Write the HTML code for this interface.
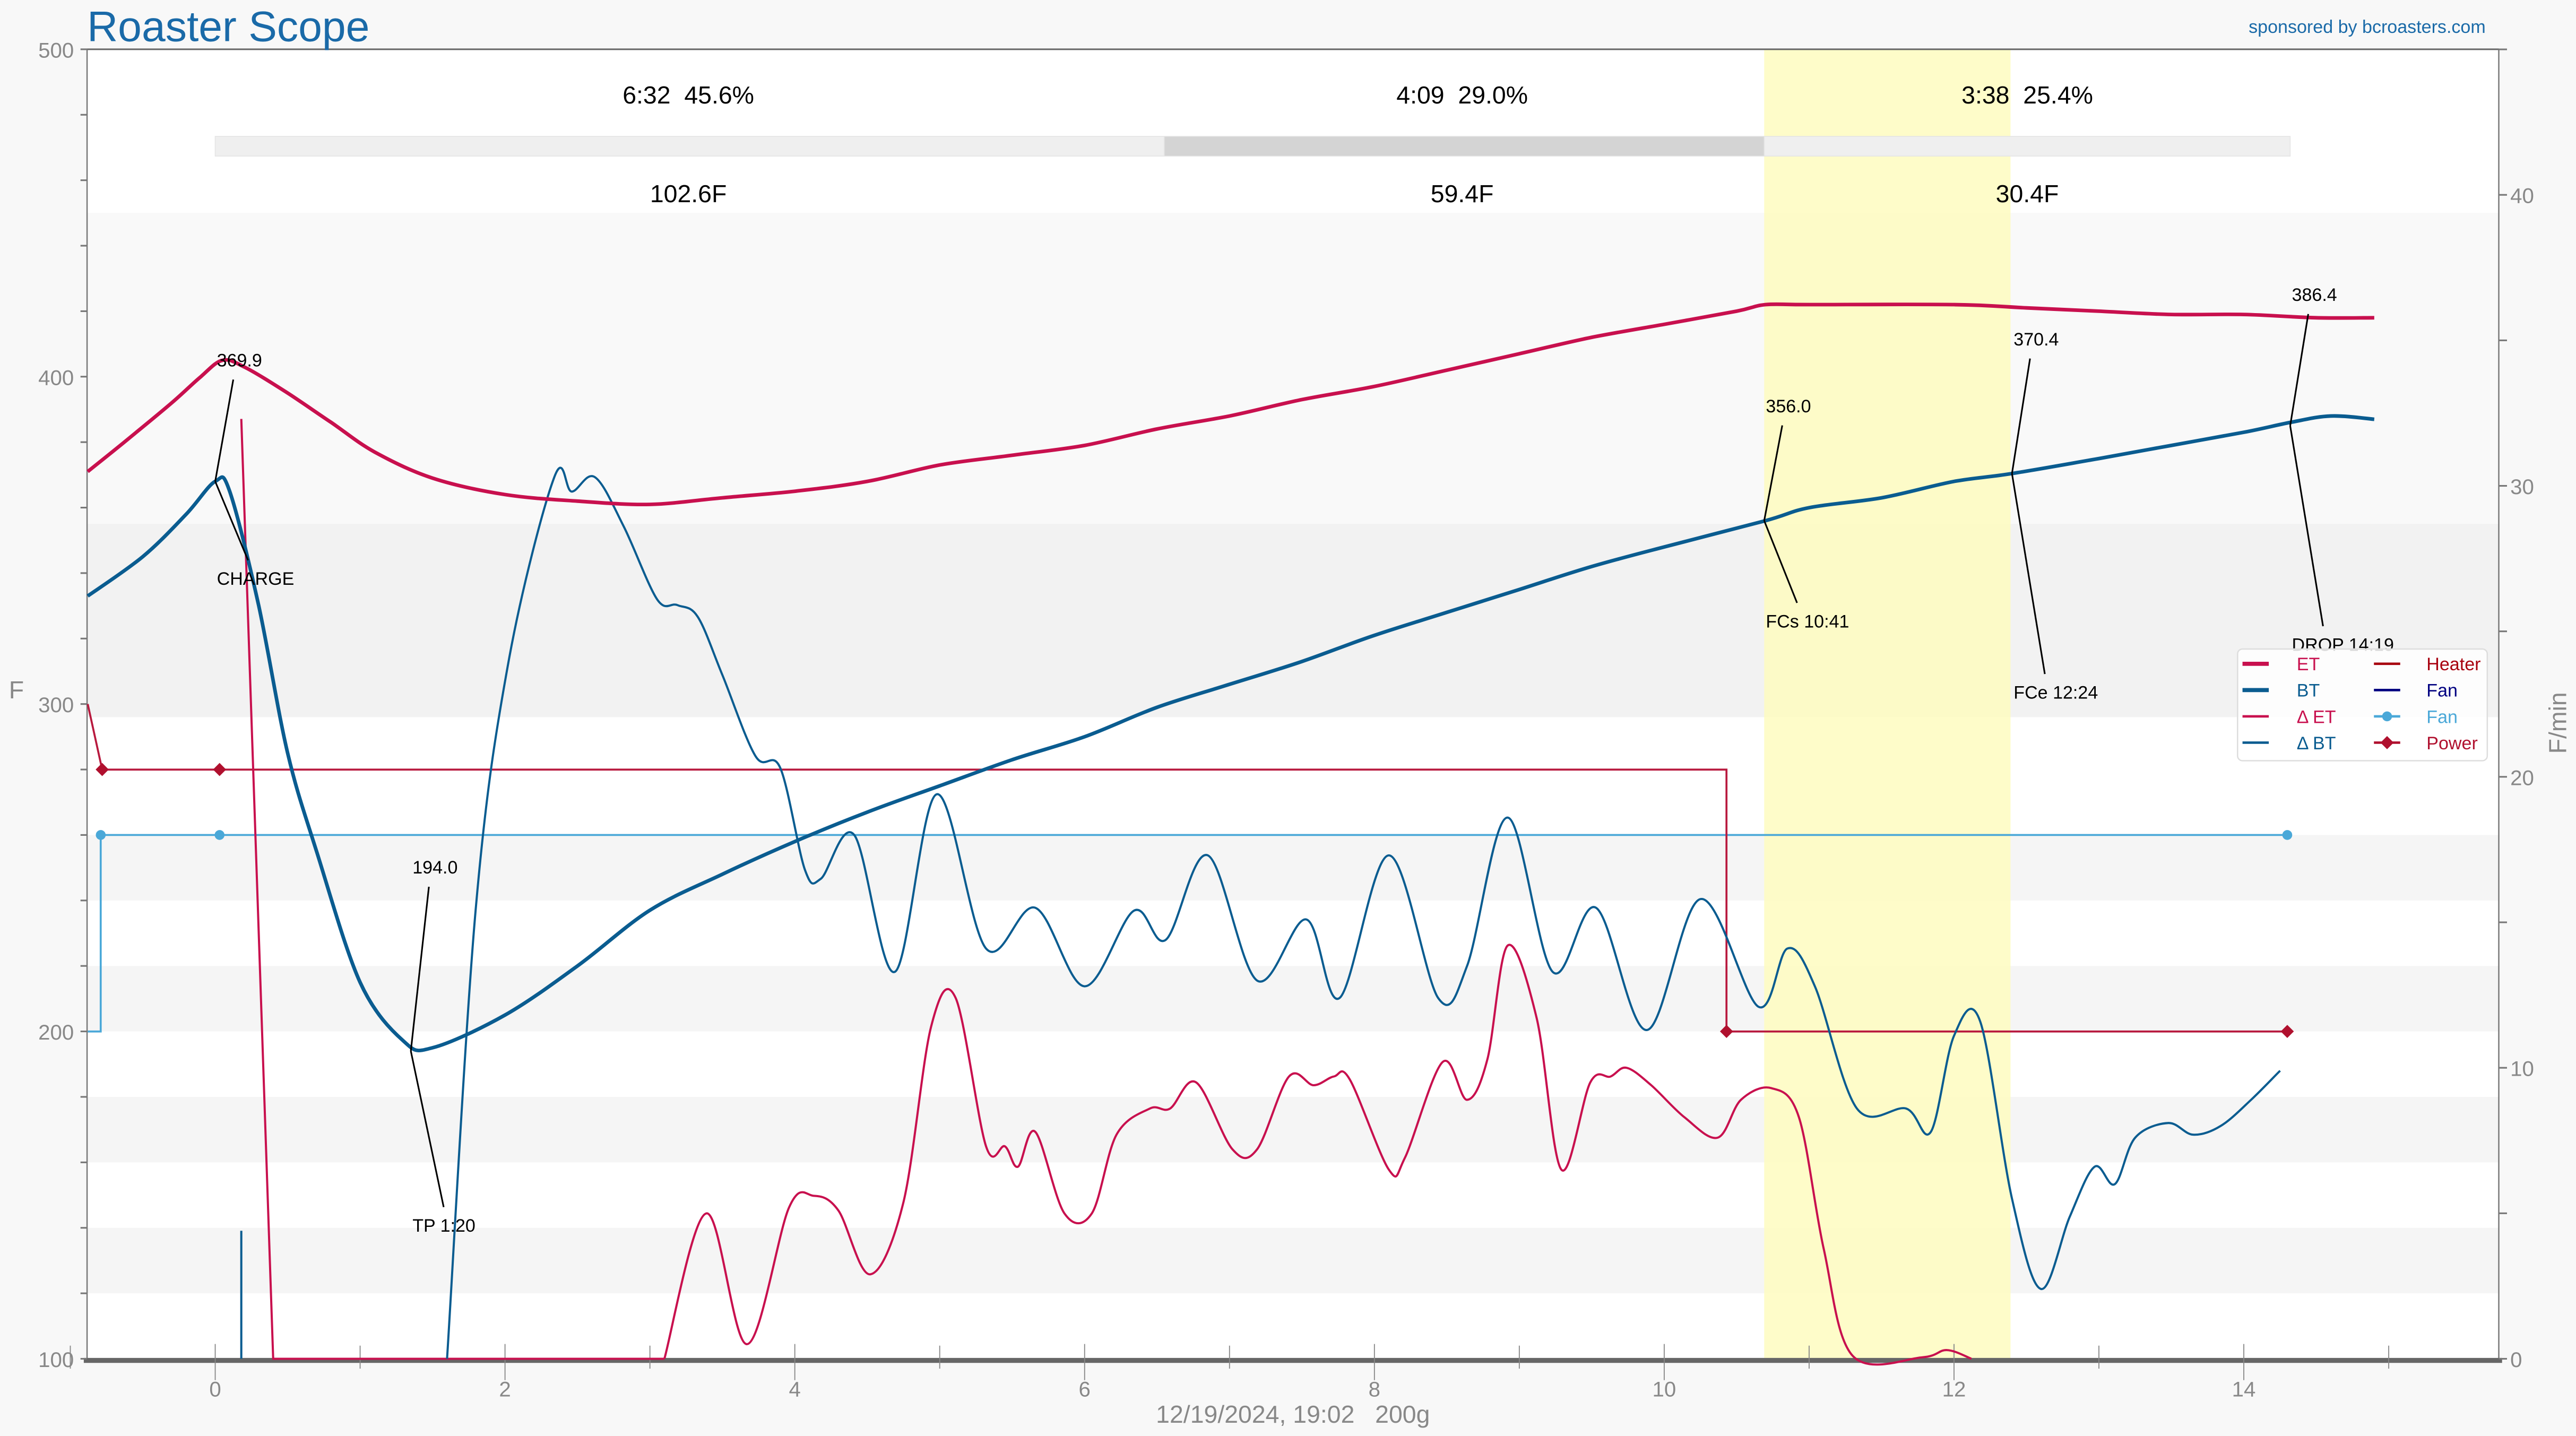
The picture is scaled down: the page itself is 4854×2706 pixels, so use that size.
<!DOCTYPE html>
<html><head><meta charset="utf-8"><style>
html,body{margin:0;padding:0;background:#f8f8f8;}
svg{display:block;font-family:"Liberation Sans",sans-serif;}
svg text{white-space:pre;}
</style></head><body>
<svg id="chart" width="4854" height="2706" viewBox="0 0 1568 874" preserveAspectRatio="none" xmlns="http://www.w3.org/2000/svg" xml:space="preserve">
<rect x="0" y="0" width="1568" height="874" fill="#f8f8f8"/>
<g id="bands"></g>
<g id="phases"></g>
<g id="axes"></g>
<g id="series"></g>
<g id="events"></g>
<text x="53" y="25" font-size="26" fill="#1a6aa8">Roaster Scope</text>
<text x="1513" y="20" font-size="11" fill="#1a6aa8" text-anchor="end">sponsored by bcroasters.com</text>
<text x="10" y="425" font-size="15" fill="#888" text-anchor="middle">F</text>
<text x="1562" y="440" font-size="15" fill="#888" text-anchor="middle" transform="rotate(-90 1562 440)">F/min</text>
<text x="787" y="866" font-size="15" fill="#888" text-anchor="middle">12/19/2024, 19:02   200g</text>
<g id="legend"></g>
</svg>
<script>
const NS="http://www.w3.org/2000/svg";
// ---- data ----
const etTime=[-0.88,-0.6,-0.3,-0.1,0.05,0.2,0.5,0.8,1.1,1.5,2,2.5,3,3.5,4,4.5,5,5.5,6,6.5,7,7.5,8,8.5,9,9.5,10,10.5,10.7,11,12,12.5,13,13.5,14,14.5,14.9];
const etVals=[371,381,392,400,405,403,395,386,377,369,364,362,361,363,365,368,373,376,379,384,388,393,397,402,407,412,416,420,422,422,422,421,420,419,419,418,418];
const btTime=[-0.88,-0.5,-0.2,0,0.1,0.3,0.5,0.7,1,1.3,1.5,2,2.5,3,3.5,4,4.5,5,5.5,6,6.5,7,7.5,8,8.5,9,9.5,10,10.7,11,11.5,12,12.4,13,13.5,14,14.32,14.6,14.9];
const btVals=[333,345,358,368,365,330,285,255,215,197,195,205,220,237,248,258,267,275,283,290,299,306,313,321,328,335,342,348,356,360,363,368,370.4,375,379,383,386,388,387];
const dbtTime=[1.6,1.8,2.03,2.34,2.46,2.62,2.82,3.05,3.19,3.33,3.5,3.73,3.9,4.07,4.18,4.41,4.69,4.98,5.32,5.66,6.0,6.34,6.56,6.85,7.19,7.53,7.76,8.1,8.44,8.64,8.92,9.23,9.53,9.88,10.25,10.65,10.85,11.04,11.33,11.67,11.84,12.0,12.18,12.4,12.6,12.8,12.97,13.11,13.25,13.48,13.65,13.84,14.05,14.25];
const dbtVals=[0,15.6,24.1,30.3,29.8,30.3,28.6,26.1,25.9,25.5,23.5,20.7,20.3,16.8,16.5,18.0,13.3,19.4,14.1,15.5,12.8,15.4,14.4,17.3,13.0,15.1,12.4,17.3,12.4,13.5,18.6,13.3,15.5,11.3,15.8,12.1,14.1,12.8,8.6,8.6,7.8,11.1,11.6,5.5,2.4,4.9,6.6,6.0,7.6,8.1,7.7,8.0,8.9,9.9];
const detTime=[3.1,3.39,3.67,3.96,4.13,4.3,4.52,4.75,4.94,5.11,5.32,5.45,5.54,5.66,5.86,6.05,6.22,6.45,6.59,6.77,7.02,7.19,7.41,7.58,7.72,7.83,8.1,8.21,8.47,8.64,8.78,8.92,9.12,9.29,9.49,9.63,9.74,9.91,10.14,10.37,10.53,10.74,10.93,11.1,11.3,11.78,11.95,12.12];
const detVals=[0,5.0,0.5,5.2,5.6,5.1,2.9,5.4,11.4,12.4,7.3,7.3,6.6,7.8,5.0,5.0,7.7,8.6,8.6,9.5,7.2,7.2,9.7,9.4,9.7,9.6,6.5,6.9,10.2,8.9,10.3,14.2,11.7,6.5,9.5,9.7,10.0,9.4,8.3,7.6,8.9,9.3,8.3,3.8,0.1,0.05,0.3,0];
const heaterTime=[-0.88,-0.78,10.43,10.43,14.3];
const heaterVals=[300,280,280,200,200];
const powerMarkTime=[-0.78,0.03,10.43,14.3];
const powerMarkVals=[280,280,200,200];
const fanTime=[-0.88,-0.79,-0.79,14.3];
const fanVals=[200,200,260,260];
const fanMarkTime=[-0.79,0.03,14.3];
const fanMarkVals=[260,260,260];
const leftTicks=[100,200,300,400,500];
const rightTicks=[0,10,20,30,40];
const xTicks=[0,2,4,6,8,10,12,14];
const phaseLabels=["6:32  45.6%","4:09  29.0%","3:38  25.4%"];
const phaseDeltas=["102.6F","59.4F","30.4F"];
const phaseBounds=[0,6.55,10.69,14.32];
const evNames=["CHARGE","TP 1:20","FCs 10:41","FCe 12:24","DROP 14:19"];
const evVals=["369.9","194.0","356.0","370.4","386.4"];
const evTime=[0,1.35,10.69,12.4,14.32];
const evTemp=[368,194,356,370.4,385];

// ---- scales ----
const L=53,R=1521,T=30,B=827;
const xs=m=>131+m*88.2;
const yF=f=>B-(f-100)*1.9925;
const yR=v=>B-v*17.71;
function el(tag,attrs,parent){const e=document.createElementNS(NS,tag);for(const k in attrs)e.setAttribute(k,attrs[k]);parent.appendChild(e);return e;}
function poly(t,v,ys){return t.map((m,i)=>xs(m).toFixed(1)+","+ys(v[i]).toFixed(1)).join(" ");}
function smooth(t,v,ys){const p=t.map((m,i)=>[xs(m),ys(v[i])]);let d="M"+p[0][0]+","+p[0][1];
 for(let i=0;i<p.length-1;i++){const p0=p[Math.max(i-1,0)],p1=p[i],p2=p[i+1],p3=p[Math.min(i+2,p.length-1)];
 const c1=[p1[0]+(p2[0]-p0[0])/6,p1[1]+(p2[1]-p0[1])/6],c2=[p2[0]-(p3[0]-p1[0])/6,p2[1]-(p3[1]-p1[1])/6];
 d+=` C${c1[0].toFixed(1)},${c1[1].toFixed(1)} ${c2[0].toFixed(1)},${c2[1].toFixed(1)} ${p2[0].toFixed(1)},${p2[1].toFixed(1)}`;}return d;}

// bands
const bands=document.getElementById('bands');
const bandDefs=[[450,500,"#ffffff"],[355,450,"#f9f9f9"],[296,355,"#f2f2f2"],[280,296,"#ffffff"]];
for(let f=100;f<280;f+=20){bandDefs.push([f,f+20,((f/20)%2===1)?"#ffffff":"#f5f5f5"]);}
bandDefs.forEach(b=>{const r=el('rect',{x:L,y:yF(b[1]),width:R-L,height:yF(b[0])-yF(b[1]),fill:b[2]},bands);

});
const yb=el('rect',{x:xs(10.69),y:T,width:xs(12.39)-xs(10.69),height:B-T,fill:"#fefbbf",opacity:"0.85"},bands);



// phases
const ph=document.getElementById('phases');
const phCol=["#efefef","#d4d4d4","#efefef"];
for(let i=0;i<3;i++){const x0=xs(phaseBounds[i]),x1=xs(phaseBounds[i+1]);
 const r=el('rect',{x:x0,y:83,width:x1-x0,height:12,fill:phCol[i],stroke:"#e4e4e4","stroke-width":0.5},ph);
 
 
 const cx=[419,890,1234][i];
 const t1=el('text',{x:cx,y:63,"font-size":15,"text-anchor":"middle",fill:"#000"},ph);t1.textContent=phaseLabels[i];
 
 
 const t2=el('text',{x:cx,y:123,"font-size":15,"text-anchor":"middle",fill:"#000"},ph);t2.textContent=phaseDeltas[i];
 
 }

// axes
const ax=document.getElementById('axes');
el('line',{x1:L,y1:T,x2:R,y2:T,stroke:"#666","stroke-width":1},ax);
el('line',{x1:L,y1:T,x2:L,y2:B,stroke:"#777","stroke-width":0.8},ax);
el('line',{x1:R,y1:T,x2:R,y2:B,stroke:"#777","stroke-width":0.8},ax);
el('line',{x1:L-2,y1:B+1,x2:R+2,y2:B+1,stroke:"#666","stroke-width":3},ax);
for(let f=100;f<=500;f+=20){el('line',{x1:L-4,y1:yF(f),x2:L,y2:yF(f),stroke:"#777","stroke-width":1},ax);}
leftTicks.forEach(f=>{const t=el('text',{x:45,y:yF(f)+5,"font-size":13,"text-anchor":"end",fill:"#888"},ax);t.textContent=f;
 
 });
for(let v=0;v<=45;v+=5){el('line',{x1:R,y1:yR(v),x2:R+5,y2:yR(v),stroke:"#777","stroke-width":1},ax);}
rightTicks.forEach(v=>{const t=el('text',{x:1528,y:yR(v)+5,"font-size":13,fill:"#888"},ax);t.textContent=v;
 
 });
for(let m=-1;m<=15;m+=2){el('line',{x1:xs(m),y1:B-8,x2:xs(m),y2:B+6,stroke:"#888","stroke-width":0.6},ax);}
xTicks.forEach(m=>{el('line',{x1:xs(m),y1:B-9,x2:xs(m),y2:B+13,stroke:"#888","stroke-width":0.6},ax);
 const t=el('text',{x:xs(m),y:B+23,"font-size":13,"text-anchor":"middle",fill:"#888"},ax);t.textContent=m;
 
 });

// series
const sg=document.getElementById('series');
let p;
p=el('polyline',{points:poly(fanTime,fanVals,yF),fill:"none",stroke:"#4aa8d8","stroke-width":1.2},sg);


fanMarkTime.forEach((m,i)=>{const c=el('circle',{cx:xs(m),cy:yF(fanMarkVals[i]),r:3,fill:"#4aa8d8"},sg);
 
 });
p=el('polyline',{points:poly(heaterTime,heaterVals,yF),fill:"none",stroke:"#b8193e","stroke-width":1.2},sg);


powerMarkTime.forEach((m,i)=>{const x=xs(m),y=yF(powerMarkVals[i]);
 const d=el('polygon',{points:`${x},${y-4} ${x+4},${y} ${x},${y+4} ${x-4},${y}`,fill:"#b0102e"},sg);
 
 });
p=el('polyline',{points:`${xs(0.18)},${yR(32.3)} ${xs(0.4)},${yR(0)} ${xs(3.1)},${yR(0)}`,fill:"none",stroke:"#c8104e","stroke-width":1.3},sg);


p=el('line',{x1:xs(0.18),y1:yR(4.4),x2:xs(0.18),y2:yR(0),stroke:"#0a5c90","stroke-width":1.3},sg);


p=el('path',{d:smooth(detTime,detVals,yR),fill:"none",stroke:"#c8104e","stroke-width":1.3},sg);


p=el('path',{d:smooth(dbtTime,dbtVals,yR),fill:"none",stroke:"#0a5c90","stroke-width":1.3},sg);


p=el('path',{d:smooth(etTime,etVals,yF),fill:"none",stroke:"#c8104e","stroke-width":2.2},sg);


p=el('path',{d:smooth(btTime,btVals,yF),fill:"none",stroke:"#0a5c90","stroke-width":2.2},sg);



// events
const eg=document.getElementById('events');
const upDy=[-62,-100,-58,-70,-68], dnDy=[48,95,50,122,122];
evNames.forEach((n,i)=>{const x=xs(evTime[i]),y=yF(evTemp[i]);
 el('line',{x1:x,y1:y,x2:x+11,y2:y+upDy[i],stroke:"#000","stroke-width":1},eg);
 el('line',{x1:x,y1:y,x2:x+20,y2:y+dnDy[i],stroke:"#000","stroke-width":1},eg);
 const t=el('text',{x:x+1,y:y+upDy[i]-8,"font-size":11,fill:"#000"},eg);t.textContent=evVals[i];
 
 
 const t2=el('text',{x:x+1,y:y+dnDy[i]+15,"font-size":11,fill:"#000"},eg);t2.textContent=n;
 
 });

// legend
const lg=document.getElementById('legend');
el('rect',{x:1362,y:395,width:152,height:68,rx:3,fill:"#fff","fill-opacity":0.85,stroke:"#ddd","stroke-width":0.8},lg);
const legItems=[["ET","#c8104e",1365,404,2.5,""],["BT","#0a5c90",1365,420,2.5,""],["\u0394 ET","#c8104e",1365,436,1.5,""],["\u0394 BT","#0a5c90",1365,452,1.5,""],
["Heater","#a8000e",1445,404,1.5,""],["Fan","#000080",1445,420,1.5,""],["Fan","#4aa8d8",1445,436,1.5,"c"],["Power","#b0102e",1445,452,1.5,"d"]];
legItems.forEach(it=>{const [lab,col,x,y,w,mk]=it;
 el('line',{x1:x,y1:y,x2:x+16,y2:y,stroke:col,"stroke-width":w},lg);
 if(mk==="c")el('circle',{cx:x+8,cy:y,r:3,fill:col},lg);
 if(mk==="d")el('polygon',{points:`${x+8},${y-4} ${x+12},${y} ${x+8},${y+4} ${x+4},${y}`,fill:col},lg);
 const t=el('text',{x:x+(x<1400?33:32),y:y+4,"font-size":11,fill:col},lg);t.textContent=lab;
 
 });
</script>
</body></html>
